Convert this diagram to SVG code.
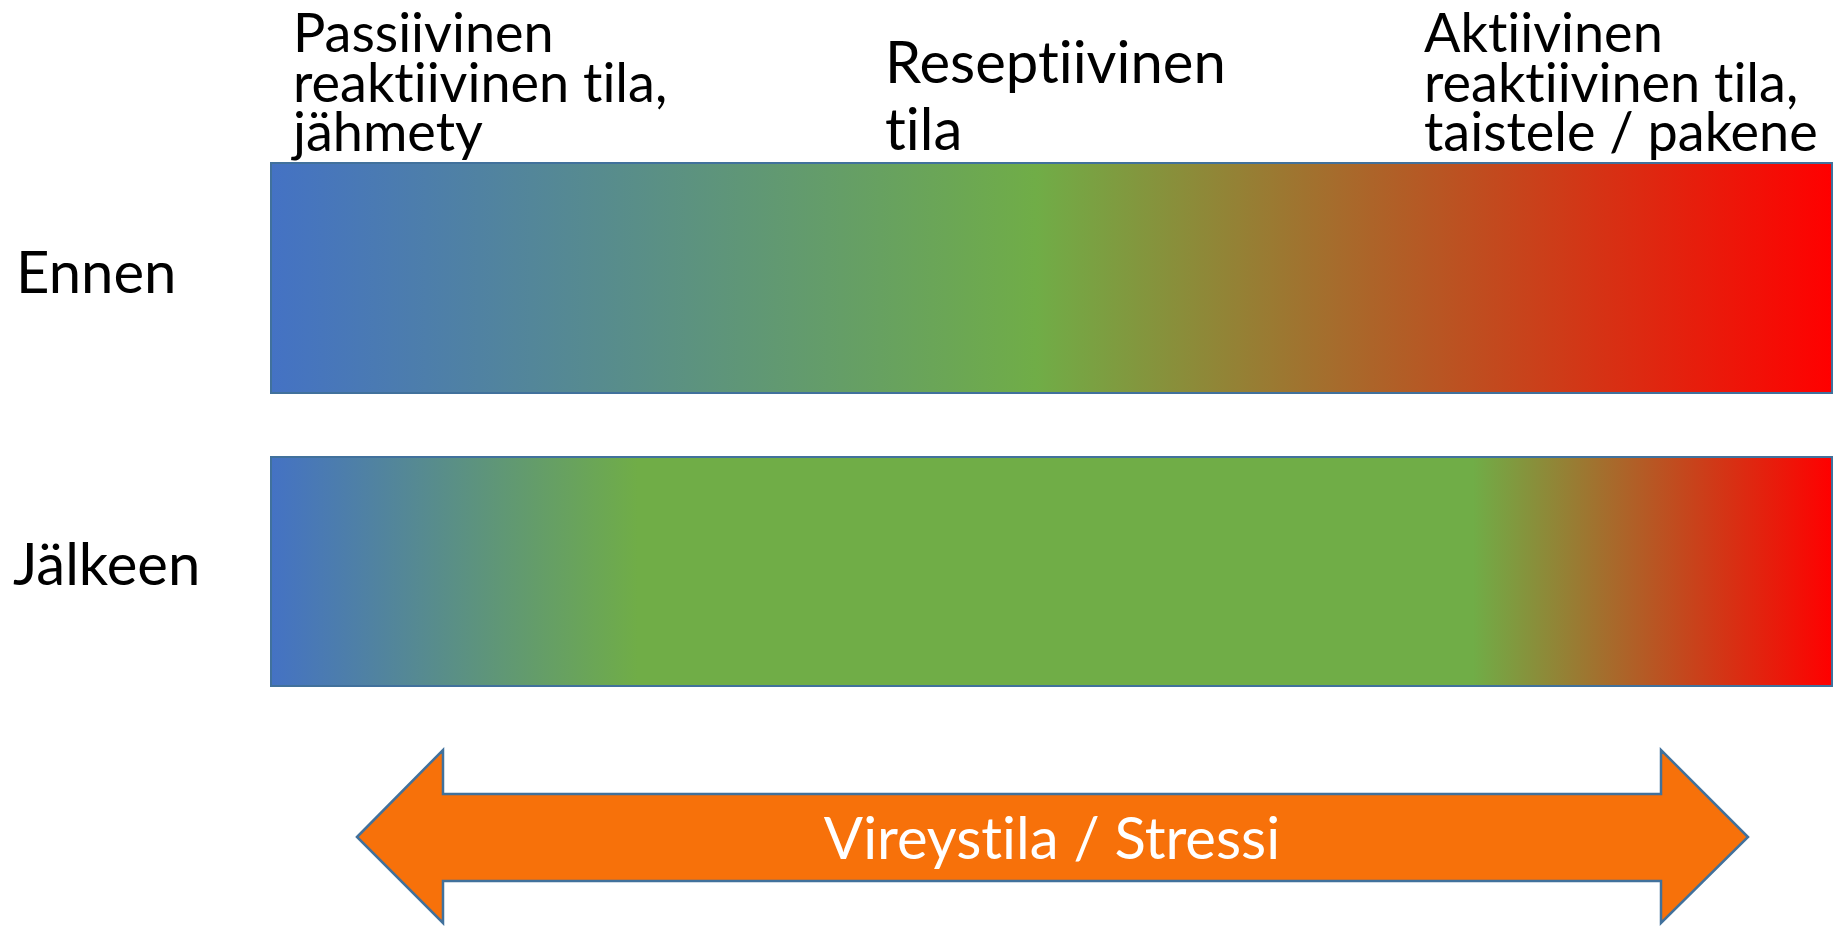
<svg xmlns="http://www.w3.org/2000/svg" width="1837" height="926" viewBox="0 0 1837 926">
<defs>
<linearGradient id="g1" x1="0" y1="0" x2="1" y2="0">
<stop offset="0" stop-color="#4472C4"/>
<stop offset="0.49" stop-color="#70AD47"/>
<stop offset="1" stop-color="#FF0000"/>
</linearGradient>
<linearGradient id="g2" x1="0" y1="0" x2="1" y2="0">
<stop offset="0" stop-color="#4472C4"/>
<stop offset="0.235" stop-color="#70AD47"/>
<stop offset="0.77" stop-color="#70AD47"/>
<stop offset="1" stop-color="#FF0000"/>
</linearGradient>
</defs>
<style>
.t{font-family:Lato,"Open Sans","Liberation Sans",sans-serif;font-size:54px;fill:#000;font-variant-ligatures:none;font-feature-settings:"liga" 0}
.big{font-size:58px}
.bar{stroke:#41719C;stroke-width:2}
.w{fill:#fff;text-anchor:middle}
</style>
<g id="bar-ennen">
<rect class="bar" x="271" y="163" width="1561" height="230" fill="url(#g1)"/>
</g>
<g id="bar-jalkeen">
<rect class="bar" x="271" y="457" width="1561" height="229" fill="url(#g2)"/>
</g>
<g id="label-passiivinen">
<text class="t" x="293" y="52">Passiivinen</text>
<text class="t" x="293" y="102">reaktiivinen tila,</text>
<text class="t" x="293" y="151">jähmety</text>
</g>
<g id="label-reseptiivinen">
<text class="t big" x="885" y="83">Reseptiivinen</text>
<text class="t big" x="885" y="150">tila</text>
</g>
<g id="label-aktiivinen">
<text class="t" x="1424" y="52">Aktiivinen</text>
<text class="t" x="1424" y="102">reaktiivinen tila,</text>
<text class="t" x="1424" y="151">taistele / pakene</text>
</g>
<g id="label-ennen">
<text class="t big" x="16" y="293">Ennen</text>
</g>
<g id="label-jalkeen">
<text class="t big" x="13" y="585">Jälkeen</text>
</g>
<g id="connectors">
<g id="arrow-vireystila">
<path d="M357,837 L443,750 L443,794 L1661,794 L1661,750 L1748,837 L1661,923 L1661,881 L443,881 L443,923 Z" fill="#F7710A" stroke="#41719C" stroke-width="2.5" stroke-linejoin="miter"/>
<text class="t big w" x="1052" y="859">Vireystila / Stressi</text>
</g>
</g>
</svg>
